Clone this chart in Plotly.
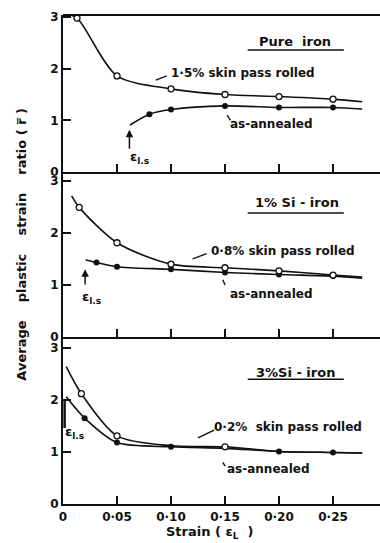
import plotly.graph_objects as go
from plotly.subplots import make_subplots

# ---- data ----
x_ticks = [0, 0.05, 0.10, 0.15, 0.20, 0.25]
x_tick_labels = ["0", "0·05", "0·10", "0·15", "0·20", "0·25"]
y_ticks = [0, 1, 2, 3]
y_tick_labels = ["0", "1", "2", "3"]

panel_titles = ["Pure  iron", "1% Si - iron", "3%Si - iron"]
rolled_labels = ["1·5% skin pass rolled", "0·8% skin pass rolled", "0·2%  skin pass rolled"]
annealed_label = "as-annealed"

# Pure iron
pure_rolled_x = [0.002, 0.013, 0.05, 0.10, 0.15, 0.20, 0.25, 0.277]
pure_rolled_y = [3.06, 2.98, 1.86, 1.61, 1.50, 1.46, 1.41, 1.36]
pure_rolled_mx = [0.013, 0.05, 0.10, 0.15, 0.20, 0.25]
pure_rolled_my = [2.98, 1.86, 1.61, 1.50, 1.46, 1.41]
pure_ann_x = [0.062, 0.08, 0.10, 0.15, 0.20, 0.25, 0.277]
pure_ann_y = [0.91, 1.12, 1.21, 1.28, 1.25, 1.25, 1.22]
pure_ann_mx = [0.08, 0.10, 0.15, 0.20, 0.25]
pure_ann_my = [1.12, 1.21, 1.28, 1.25, 1.25]

# 1% Si iron
si1_rolled_x = [0.008, 0.015, 0.05, 0.10, 0.15, 0.20, 0.25, 0.277]
si1_rolled_y = [2.71, 2.49, 1.81, 1.40, 1.33, 1.27, 1.19, 1.15]
si1_rolled_mx = [0.015, 0.05, 0.10, 0.15, 0.20, 0.25]
si1_rolled_my = [2.49, 1.81, 1.40, 1.33, 1.27, 1.19]
si1_ann_x = [0.021, 0.031, 0.05, 0.10, 0.15, 0.20, 0.25, 0.277]
si1_ann_y = [1.48, 1.43, 1.35, 1.30, 1.24, 1.20, 1.17, 1.13]
si1_ann_mx = [0.031, 0.05, 0.10, 0.15, 0.20, 0.25]
si1_ann_my = [1.43, 1.35, 1.30, 1.24, 1.20, 1.17]

# 3% Si iron
si3_rolled_x = [0.003, 0.017, 0.05, 0.10, 0.15, 0.20, 0.25, 0.277]
si3_rolled_y = [2.64, 2.12, 1.31, 1.12, 1.10, 1.01, 0.99, 0.98]
si3_rolled_mx = [0.017, 0.05, 0.15]
si3_rolled_my = [2.12, 1.31, 1.10]
si3_ann_x = [0.003, 0.02, 0.05, 0.10, 0.15, 0.20, 0.25, 0.277]
si3_ann_y = [2.06, 1.65, 1.18, 1.10, 1.07, 1.01, 0.99, 0.98]
si3_ann_mx = [0.02, 0.05, 0.10, 0.20, 0.25]
si3_ann_my = [1.65, 1.18, 1.10, 1.01, 0.99]

y_ranges = [[0, 3.04], [0, 3.17], [0, 3.21]]

FONT = "DejaVu Sans"
BLACK = "#111111"

fig = make_subplots(rows=3, cols=1, shared_xaxes=True, vertical_spacing=0)

panels = [
    (pure_rolled_x, pure_rolled_y, pure_rolled_mx, pure_rolled_my,
     pure_ann_x, pure_ann_y, pure_ann_mx, pure_ann_my),
    (si1_rolled_x, si1_rolled_y, si1_rolled_mx, si1_rolled_my,
     si1_ann_x, si1_ann_y, si1_ann_mx, si1_ann_my),
    (si3_rolled_x, si3_rolled_y, si3_rolled_mx, si3_rolled_my,
     si3_ann_x, si3_ann_y, si3_ann_mx, si3_ann_my),
]

for i, (rx, ry, rmx, rmy, ax, ay, amx, amy) in enumerate(panels):
    row = i + 1
    fig.add_trace(go.Scatter(x=ax, y=ay, mode="lines", line=dict(color=BLACK, width=1.6, shape="spline", smoothing=0.8),
                             showlegend=False, hoverinfo="skip"), row=row, col=1)
    fig.add_trace(go.Scatter(x=rx, y=ry, mode="lines", line=dict(color=BLACK, width=1.6, shape="spline", smoothing=0.8),
                             showlegend=False, hoverinfo="skip"), row=row, col=1)
    fig.add_trace(go.Scatter(x=amx, y=amy, mode="markers",
                             marker=dict(symbol="circle", size=6, color=BLACK),
                             showlegend=False), row=row, col=1)
    fig.add_trace(go.Scatter(x=rmx, y=rmy, mode="markers",
                             marker=dict(symbol="circle", size=6, color="white", line=dict(color=BLACK, width=1.3)),
                             showlegend=False), row=row, col=1)

tick_font = dict(family=FONT, size=12, color=BLACK, weight="bold")

# domains (paper y, from bottom)
domains = [[0.679, 1.0], [0.3415, 0.679], [0.0, 0.3415]]
for i in range(3):
    ya = "yaxis" if i == 0 else f"yaxis{i+1}"
    xa = "xaxis" if i == 0 else f"xaxis{i+1}"
    fig.layout[ya].update(domain=domains[i], range=y_ranges[i], tickvals=y_ticks, ticktext=y_tick_labels,
                          ticks="inside", ticklen=8, tickwidth=1.5, tickcolor=BLACK,
                          showline=True, linewidth=2.2, linecolor=BLACK, showgrid=False, zeroline=False,
                          tickfont=tick_font, ticklabelstandoff=0)
    fig.layout[xa].update(range=[0, 0.2935], tickvals=x_ticks, ticktext=x_tick_labels,
                          ticks="inside", ticklen=8, tickwidth=1.5, tickcolor=BLACK,
                          showline=True, linewidth=2.2, linecolor=BLACK, showgrid=False, zeroline=False,
                          showticklabels=(i == 2), tickfont=tick_font)

# x-axis title
fig.add_annotation(xref="paper", yref="paper", x=0.464, y=-0.0593, xanchor="center", yanchor="middle",
                   text="Strain ( ε<sub>L</sub>  )", showarrow=False,
                   font=dict(family=FONT, size=13, color=BLACK, weight="bold"))

# top border line of first panel
fig.add_shape(type="line", xref="paper", yref="paper", x0=0, x1=1, y0=1, y1=1,
              line=dict(color=BLACK, width=2))

# y-axis title
fig.add_annotation(xref="paper", yref="paper", x=-0.13, y=0.532, xanchor="center", yanchor="middle",
                   text="Average\u00a0\u00a0\u00a0 plastic\u00a0\u00a0\u00a0 strain\u00a0\u00a0\u00a0 ratio ( r\u0305 )",
                   textangle=-90, showarrow=False, font=dict(family=FONT, size=13, color=BLACK, weight="bold"))

ann_font = dict(family=FONT, size=12, color=BLACK, weight="bold")
title_font = dict(family=FONT, size=13, color=BLACK, weight="bold")
axes = [("x", "y"), ("x2", "y2"), ("x3", "y3")]
title_pos = [(0.2148, 2.52), (0.2165, 2.58), (0.2155, 2.53)]
underline_y = [2.36, 2.38, 2.40]
rolled_pos = [(0.098, 1.92), (0.135, 1.65), (0.138, 1.48)]
rolled_arrow = [((0.086, 1.78), (0.096, 1.86)), ((0.120, 1.50), (0.133, 1.60)), ((0.125, 1.27), (0.140, 1.42))]
ann_pos = [(0.153, 0.93), (0.153, 0.83), (0.150, 0.67)]
ann_tick = [((0.152, 1.10), (0.155, 1.00)), ((0.148, 1.10), (0.150, 1.00)), ((0.148, 0.80), (0.150, 0.73))]
els_pos = [(0.060, 0.28), (0.016, 0.76), (0.000, 1.38)]

for i in range(3):
    xr, yr = axes[i]
    tx, ty = title_pos[i]
    fig.add_annotation(xref=xr, yref=yr, x=tx, y=ty, text=panel_titles[i], showarrow=False,
                       xanchor="center", yanchor="middle", font=title_font)
    fig.add_shape(type="line", xref=xr, yref=yr, x0=0.171, x1=0.260, y0=underline_y[i], y1=underline_y[i],
                  line=dict(color=BLACK, width=1.5))
    rx, ry = rolled_pos[i]
    fig.add_annotation(xref=xr, yref=yr, x=rx, y=ry, text=rolled_labels[i], showarrow=False,
                       xanchor="left", yanchor="middle", font=ann_font)
    (ax0, ay0), (ax1, ay1) = rolled_arrow[i]
    fig.add_shape(type="line", xref=xr, yref=yr, x0=ax0, y0=ay0, x1=ax1, y1=ay1, line=dict(color=BLACK, width=1.4))
    px, py = ann_pos[i]
    fig.add_annotation(xref=xr, yref=yr, x=px, y=py, text=annealed_label, showarrow=False,
                       xanchor="left", yanchor="middle", font=ann_font)
    (bx0, by0), (bx1, by1) = ann_tick[i]
    fig.add_shape(type="line", xref=xr, yref=yr, x0=bx0, y0=by0, x1=bx1, y1=by1, line=dict(color=BLACK, width=1.4))
    ex, ey = els_pos[i]
    fig.add_annotation(xref=xr, yref=yr, x=ex, y=ey, text="ε<sub>l.s</sub>", showarrow=False,
                       xanchor="left", yanchor="middle", font=dict(family=FONT, size=13, color=BLACK, weight="bold"))

# elastic-limit strain arrows
fig.add_annotation(xref="x", yref="y", x=0.0615, y=0.82, ax=0.0615, ay=0.42, axref="x", ayref="y",
                   showarrow=True, arrowhead=2, arrowsize=1, arrowwidth=1.5, arrowcolor=BLACK, text="")
fig.add_annotation(xref="x2", yref="y2", x=0.0205, y=1.30, ax=0.0205, ay=0.98, axref="x2", ayref="y2",
                   showarrow=True, arrowhead=2, arrowsize=1, arrowwidth=1.5, arrowcolor=BLACK, text="")
fig.add_shape(type="line", xref="x3", yref="y3", x0=0.0015, x1=0.0015, y0=1.46, y1=2.02,
              line=dict(color=BLACK, width=2.5))

fig.update_layout(width=380, height=543, margin=dict(l=63, r=0, t=15, b=39),
                  plot_bgcolor="white", paper_bgcolor="white", showlegend=False)

fig.write_html("out.html", config={"displayModeBar": False},
               post_script="document.body.style.margin='0';document.body.style.overflow='hidden';")
